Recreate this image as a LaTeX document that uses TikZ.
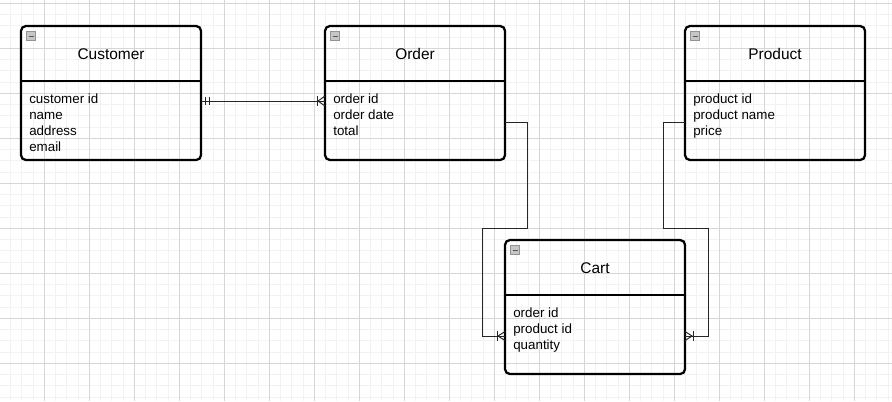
\documentclass[tikz,border=0pt]{standalone}
\usepackage{fontspec}
\setmainfont{Liberation Sans}

\definecolor{gridminor}{HTML}{F2F2F2}
\definecolor{gridmajor}{HTML}{D6D6D6}

\tikzset{
  entity/.style={draw, line width=1.6pt, rounded corners=3.5pt, minimum width=4.5cm,
    minimum height=3.35cm, outer sep=0pt, anchor=north west},
  header/.style={line width=1.6pt},
  title/.style={font=\fontsize{11}{13}\selectfont},
  attr/.style={font=\fontsize{9.5}{11.4}\selectfont, align=left, inner sep=0pt, anchor=north west},
  rel/.style={draw=black!85, line width=0.7pt},
  icon/.style={fill=gray!45, draw=gray!85, line width=0.5pt},
}

\begin{document}
\begin{tikzpicture}[x=0.025cm, y=-0.025cm]

\useasboundingbox (0,0) rectangle (892,401);
\clip (0,0) rectangle (892,401);

% background grid
\foreach \k in {0,...,80}
  \draw[gridminor, line width=0.7pt] ({-0.7+11.25*\k},0) -- ({-0.7+11.25*\k},401);
\foreach \k in {-1,...,36}
  \draw[gridminor, line width=0.7pt] (0,{3.3+11.25*\k}) -- (892,{3.3+11.25*\k});
\foreach \k in {0,...,20}
  \draw[gridmajor, line width=0.7pt] ({-0.7+45*\k},0) -- ({-0.7+45*\k},401);
\foreach \k in {0,...,9}
  \draw[gridmajor, line width=0.7pt] (0,{3.3+45*\k}) -- (892,{3.3+45*\k});

% entities
\node[entity] (cust) at (21,26) {};
\node[entity] (order) at (325,26) {};
\node[entity] (prod) at (685,26) {};
\node[entity] (cart) at (505,240) {};

\foreach \e in {cust,order,prod,cart} {
  \draw[header] ([yshift=-1.375cm]\e.north west) -- ([yshift=-1.375cm]\e.north east);
  \draw[icon] ([shift={(5.5,5.5)}]\e.north west) rectangle ++(9,9);
  \draw[black!65, line width=0.6pt] ([shift={(7.5,10)}]\e.north west) -- ++(5,0);
}

\node[title] (custtitle) at ([yshift=-0.7cm]cust.north) {Customer};
\node[title] (ordertitle) at ([yshift=-0.7cm]order.north) {Order};
\node[title] (prodtitle) at ([yshift=-0.7cm]prod.north) {Product};
\node[title] (carttitle) at ([yshift=-0.7cm]cart.north) {Cart};

\node[attr] (custattr) at ([shift={(8,67.5)}]cust.north west) {customer id\\name\\address\\email};
\node[attr] (orderattr) at ([shift={(8,67.5)}]order.north west) {order id\\order date\\total};
\node[attr] (prodattr) at ([shift={(8,67.5)}]prod.north west) {product id\\product name\\price};
\node[attr] (cartattr) at ([shift={(8,67.5)}]cart.north west) {order id\\product id\\quantity};

% relationships
\draw[rel] ([shift={(0,8)}]cust.east) -- ([shift={(0,8)}]order.west);
\draw[rel] ([shift={(4,4)}]cust.east) -- ++(0,8);
\draw[rel] ([shift={(8,4)}]cust.east) -- ++(0,8);
\draw[rel] ([shift={(-8,3)}]order.west) -- ++(0,10);
\draw[rel] ([shift={(0,3)}]order.west) -- ([shift={(-7,8)}]order.west) -- ([shift={(0,13)}]order.west);

\draw[rel] ([shift={(0,29)}]order.east) -- ++(22,0) -- ++(0,106) -- ++(-45,0) -- ++(0,108)
  -- ([shift={(0,29)}]cart.west);
\draw[rel] ([shift={(-8,24)}]cart.west) -- ++(0,10);
\draw[rel] ([shift={(0,24.5)}]cart.west) -- ([shift={(-7,29)}]cart.west) -- ([shift={(0,33.5)}]cart.west);

\draw[rel] ([shift={(0,29)}]prod.west) -- ++(-22,0) -- ++(0,106) -- ++(45,0) -- ++(0,108)
  -- ([shift={(0,29)}]cart.east);
\draw[rel] ([shift={(8,24)}]cart.east) -- ++(0,10);
\draw[rel] ([shift={(0,24.5)}]cart.east) -- ([shift={(7,29)}]cart.east) -- ([shift={(0,33.5)}]cart.east);

\end{tikzpicture}
\end{document}
